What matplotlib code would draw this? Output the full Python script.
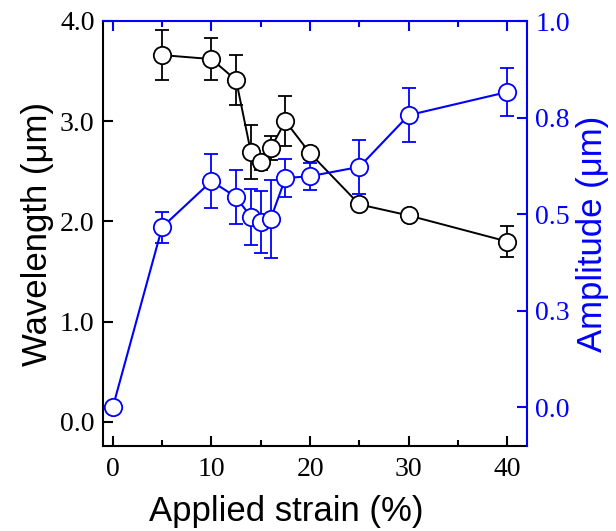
import numpy as np
import matplotlib
matplotlib.use('Agg')
import matplotlib.pyplot as plt
from matplotlib.ticker import MultipleLocator

#%% data
strain_w = [5, 10, 12.5, 14, 15, 16, 17.5, 20, 25, 30, 40]
wavelength = [3.66, 3.62, 3.41, 2.69, 2.59, 2.73, 3.00, 2.68, 2.17, 2.06, 1.80]
wavelength_err = [0.25, 0.21, 0.25, 0.27, 0.08, 0.12, 0.25, 0.06, 0.04, 0.03, 0.15]

strain_a = [0, 5, 10, 12.5, 14, 15, 16, 17.5, 20, 25, 30, 40]
amplitude = [0.0, 0.466, 0.585, 0.544, 0.492, 0.48, 0.487, 0.593, 0.598, 0.622, 0.756, 0.816]
amplitude_err = [0.0, 0.04, 0.07, 0.07, 0.073, 0.08, 0.10, 0.05, 0.035, 0.07, 0.07, 0.062]

x_ticks = [0, 10, 20, 30, 40]
left_ticks = [0.0, 1.0, 2.0, 3.0, 4.0]
right_ticks = [0.0, 0.25, 0.5, 0.75, 1.0]
right_ticklabels = ['0.0', '0.3', '0.5', '0.8', '1.0']

blue = '#0000ff'
serif = 'Liberation Serif'
sans = 'Liberation Sans'

#%% figure
fig = plt.figure(figsize=(6.16, 5.31), dpi=100)
ax = fig.add_axes([103/616, 85/531, 424/616, 425/531])
ax2 = ax.twinx()

ax.errorbar(strain_w, wavelength, yerr=wavelength_err, color='black', lw=1.4,
            marker='o', ms=12.5, mfc='white', mec='black', mew=1.3,
            capsize=5, capthick=1.3, elinewidth=1.3, zorder=3)
ax2.errorbar(strain_a, amplitude, yerr=amplitude_err, color=blue, lw=1.5,
             marker='o', ms=12.5, mfc='white', mec=blue, mew=1.3,
             capsize=5, capthick=1.3, elinewidth=1.3, zorder=3)

ax.set_xlim(-1, 42)
ax.set_ylim(-0.24, 4.0)
ax2.set_ylim(-0.101, 1.0)

ax.set_xticks(x_ticks)
ax.xaxis.set_minor_locator(MultipleLocator(5))
ax.set_yticks(left_ticks)
ax.set_yticklabels(['%.1f' % v for v in left_ticks])
ax2.set_yticks(right_ticks)
ax2.set_yticklabels(right_ticklabels)

ax.tick_params(axis='both', which='major', direction='in', length=7, width=1.5,
               labelsize=20, top=False)
ax.tick_params(axis='x', which='minor', direction='in', length=4, width=1.5, top=False)
ax.tick_params(axis='x', pad=8)
ax.tick_params(axis='y', pad=6)
for lab in ax.get_xticklabels() + ax.get_yticklabels():
    lab.set_fontfamily(serif)

ax2.tick_params(axis='y', direction='in', length=7, width=1.5, labelsize=20,
                colors=blue, labelcolor=blue, pad=6)
for lab in ax2.get_yticklabels():
    lab.set_fontfamily(serif)

for s in ['left', 'bottom']:
    ax.spines[s].set_linewidth(1.5)
ax.spines['top'].set_visible(False)
ax.spines['right'].set_visible(False)
ax2.spines['left'].set_visible(False)
ax2.spines['bottom'].set_visible(False)
ax2.spines['right'].set_color(blue)
ax2.spines['right'].set_linewidth(1.5)
ax2.spines['top'].set_color(blue)
ax2.spines['top'].set_linewidth(1.5)

# blue ticks along the top edge
axt = ax.secondary_xaxis('top')
axt.set_xticks(x_ticks)
axt.xaxis.set_minor_locator(MultipleLocator(5))
axt.tick_params(which='major', direction='in', length=7, width=1.5, colors=blue, labeltop=False)
axt.tick_params(which='minor', direction='in', length=4, width=1.5, colors=blue)
axt.spines['top'].set_visible(False)

ax.set_xlabel('Applied strain (%)', fontsize=25, fontfamily=sans)
ax.xaxis.set_label_coords((286 - 103) / 424, -(512 - 446) / 425, transform=ax.transAxes)
ax.xaxis.label.set_va('center')
ax.set_ylabel('Wavelength (\u03bcm)', fontsize=25, fontfamily=sans, labelpad=4)
ax2.set_ylabel('Amplitude (\u03bcm)', fontsize=25, fontfamily=sans, color=blue, labelpad=4)

fig.savefig('out.png', dpi=100)
